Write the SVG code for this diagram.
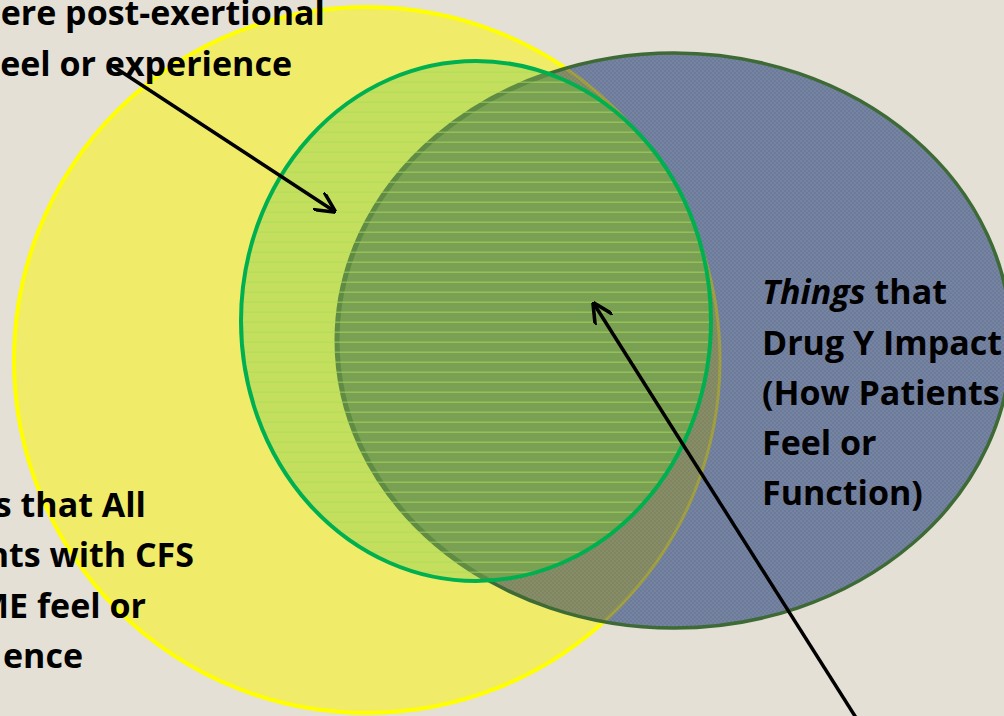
<svg xmlns="http://www.w3.org/2000/svg" width="1004" height="716" viewBox="0 0 1004 716">
  <style>
    .t { font-family: "Open Sans", "Liberation Sans", sans-serif; font-weight: 700; font-size: 34px; fill: #000; }
    .it { font-style: italic; }
    .conn { stroke: #000; stroke-width: 3.5; fill: none; marker-end: url(#arr); }
  </style>
  <defs>
    <marker id="arr" viewBox="0 0 10 10" refX="9" refY="5" markerUnits="userSpaceOnUse" markerWidth="21" markerHeight="21" orient="auto">
      <path d="M0,0 L10,5 L0,10" fill="none" stroke="#000" stroke-width="1.7" stroke-linecap="round" stroke-linejoin="round"/>
    </marker>
    <clipPath id="cY"><circle cx="367" cy="360" r="353"/></clipPath>
    <clipPath id="cB"><ellipse cx="674" cy="340.5" rx="337" ry="287.5"/></clipPath>
    <clipPath id="cG"><ellipse cx="476" cy="321" rx="235" ry="260"/></clipPath>
    <pattern id="hl" width="10" height="10" patternUnits="userSpaceOnUse">
      <rect x="0" y="1.5" width="10" height="1.5" fill="#a9dc58" opacity="0.55"/>
    </pattern>
    <pattern id="chk" width="4" height="4" patternUnits="userSpaceOnUse">
      <rect x="0" y="0" width="2" height="2" fill="#ffffff" opacity="0.06"/>
      <rect x="2" y="2" width="2" height="2" fill="#ffffff" opacity="0.06"/>
    </pattern>
  </defs>

  <rect width="1004" height="716" fill="#e4e0d6"/>

  <g id="node-yellow">
    <circle cx="367" cy="360" r="353" fill="#f0ec6a" stroke="#ffff00" stroke-width="4"/>
  </g>

  <g id="node-blue">
    <ellipse cx="674" cy="340.5" rx="337" ry="287.5" fill="#6d7b9b"/>
    <ellipse cx="674" cy="340.5" rx="337" ry="287.5" fill="#7f8660" clip-path="url(#cY)"/>
    <circle cx="367" cy="360" r="353" fill="none" stroke="#9c9b3c" stroke-width="3" clip-path="url(#cB)"/>
    <ellipse cx="674" cy="340.5" rx="337" ry="287.5" fill="url(#chk)"/>
    <ellipse cx="674" cy="340.5" rx="337" ry="287.5" fill="none" stroke="#3e6b35" stroke-width="3.5"/>
  </g>

  <g id="node-green">
    <ellipse cx="476" cy="321" rx="235" ry="260" fill="#c3df5d"/>
    <g clip-path="url(#cG)">
      <ellipse cx="674" cy="340.5" rx="337" ry="287.5" fill="#79a053"/>
      <ellipse cx="674" cy="340.5" rx="337" ry="287.5" fill="none" stroke="#5f8b45" stroke-width="5"/>
      <rect x="230" y="50" width="500" height="545" fill="url(#hl)"/>
    </g>
    <ellipse cx="476" cy="321" rx="235" ry="260" fill="none" stroke="#00b050" stroke-width="4"/>
  </g>

  <g id="labels">
    <text class="t" x="325" y="25" text-anchor="end">ere post-exertional</text>
    <text class="t" x="292" y="76" text-anchor="end">eel or experience</text>

    <text class="t" x="146" y="517" text-anchor="end">s that All</text>
    <text class="t" x="194" y="567" text-anchor="end">nts with CFS</text>
    <text class="t" x="146" y="618" text-anchor="end">ME feel or</text>
    <text class="t" x="83" y="668" text-anchor="end">ence</text>

    <text class="t" x="762" y="304"><tspan class="it">Things</tspan> that</text>
    <text class="t" x="762" y="355">Drug Y Impact</text>
    <text class="t" x="762" y="405">(How Patients</text>
    <text class="t" x="762" y="455">Feel or</text>
    <text class="t" x="762" y="505">Function)</text>
  </g>

  <g id="connectors">
    <line class="conn" x1="108" y1="63" x2="334" y2="211"/>
    <line class="conn" x1="860" y1="724" x2="594" y2="304"/>
  </g>
</svg>
